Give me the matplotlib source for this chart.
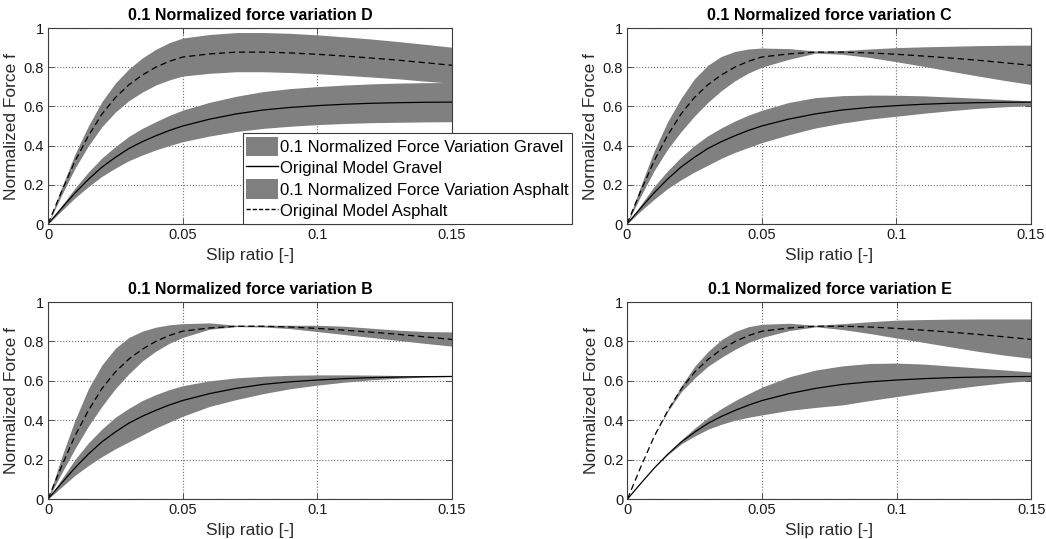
import matplotlib
matplotlib.use("Agg")
import matplotlib.pyplot as plt
from matplotlib.patches import Patch
from matplotlib.lines import Line2D

plt.rcParams['font.family'] = ['Liberation Sans', 'DejaVu Sans']

# slip ratio samples
slip = [0, .005, .01, .015, .02, .025, .03, .035, .04, .045, .05,
        .06, .07, .08, .09, .10, .11, .12, .13, .14, .15]

# original models (same in every panel)
asph_nom = [0, .165, .32, .45, .56, .645, .71, .76, .80, .83, .852,
            .868, .877, .877, .873, .866, .857, .847, .836, .823, .81]
grav_nom = [0, .08, .158, .228, .29, .34, .385, .42, .45, .477, .50,
            .535, .562, .582, .595, .604, .611, .616, .619, .621, .622]

# variation D
d_asph_hi = [0, .184, .356, .501, .624, .719, .791, .847, .891, .925, .949,
             .967, .977, .977, .973, .965, .955, .944, .931, .917, .902]
d_asph_lo = [0, .146, .284, .399, .496, .571, .629, .673, .709, .735, .755,
             .769, .777, .777, .773, .767, .759, .750, .741, .729, .718]
d_grav_hi = [0, .093, .183, .265, .337, .395, .447, .488, .522, .554, .581,
             .621, .652, .676, .691, .701, .709, .715, .719, .721, .722]
d_grav_lo = [0, .067, .133, .191, .243, .285, .323, .352, .378, .400, .420,
             .449, .472, .488, .499, .507, .513, .517, .519, .521, .522]

# variation C
c_asph_hi = [0, .19, .37, .52, .64, .74, .81, .855, .88, .893, .898,
             .895, .883, .885, .893, .90, .904, .907, .91, .912, .913]
c_asph_lo = [0, .14, .27, .38, .47, .55, .62, .68, .73, .77, .80,
             .84, .872, .866, .85, .828, .805, .78, .756, .733, .712]
c_grav_hi = [0, .095, .19, .27, .34, .40, .45, .49, .525, .555, .58,
             .62, .645, .655, .658, .657, .654, .648, .642, .635, .628]
c_grav_lo = [0, .065, .125, .18, .225, .265, .30, .335, .365, .39, .415,
             .455, .49, .515, .535, .55, .565, .578, .59, .598, .605]

# variation B
b_asph_hi = [0, .21, .40, .56, .68, .765, .82, .852, .872, .884, .89,
             .894, .882, .882, .882, .882, .877, .867, .857, .85, .848]
b_asph_lo = [0, .13, .255, .37, .47, .56, .635, .70, .75, .79, .82,
             .862, .875, .873, .865, .85, .835, .82, .805, .79, .776]
b_grav_hi = [0, .10, .20, .285, .355, .415, .46, .50, .53, .555, .575,
             .60, .615, .623, .628, .63, .63, .629, .627, .624, .622]
b_grav_lo = [0, .06, .12, .17, .215, .255, .29, .325, .36, .39, .42,
             .47, .505, .535, .56, .578, .593, .605, .613, .619, .622]

# variation E
e_asph_hi = [0, .165, .32, .455, .575, .675, .75, .81, .85, .875, .887,
             .892, .882, .89, .90, .908, .911, .913, .914, .914, .914]
e_asph_lo = [0, .165, .32, .445, .545, .615, .675, .72, .76, .795, .82,
             .855, .874, .86, .84, .817, .795, .772, .75, .73, .714]
e_grav_hi = [0, .08, .158, .232, .30, .36, .415, .46, .50, .535, .568,
             .62, .655, .676, .688, .69, .685, .675, .665, .655, .645]
e_grav_lo = [0, .08, .158, .225, .28, .32, .355, .38, .40, .415, .427,
             .45, .465, .478, .50, .52, .54, .558, .575, .59, .602]

xticks = [0, 0.05, 0.1, 0.15]
xticklabels = ["0", "0.05", "0.1", "0.15"]
yticks = [0, 0.2, 0.4, 0.6, 0.8, 1.0]
yticklabels = ["0", "0.2", "0.4", "0.6", "0.8", "1"]

band_col = "#808080"
axis_col = "#3c3c3c"

fig = plt.figure(figsize=(10.46, 5.39), dpi=100)
w, h_top, h_bot = 0.3862, 0.3636, 0.3655
ax_d = fig.add_axes([0.0459, 0.5844, w, h_top])
ax_c = fig.add_axes([0.5994, 0.5844, w, h_top])
ax_b = fig.add_axes([0.0459, 0.0742, w, h_bot])
ax_e = fig.add_axes([0.5999, 0.0742, w, h_bot])


def draw_panel(ax, title, a_hi, a_lo, g_hi, g_lo):
    ax.fill_between(slip, a_lo, a_hi, color=band_col, lw=0)
    ax.fill_between(slip, g_lo, g_hi, color=band_col, lw=0)
    ax.plot(slip, grav_nom, color="black", lw=0.9)
    ax.plot(slip, asph_nom, color="black", lw=0.9, ls=(0, (5, 3)))
    ax.set_xlim(0, 0.15)
    ax.set_ylim(0, 1)
    ax.set_xticks(xticks)
    ax.set_xticklabels(xticklabels)
    ax.set_yticks(yticks)
    ax.set_yticklabels(yticklabels)
    ax.set_axisbelow(True)
    ax.grid(True, ls=":", color="#707070", lw=0.8)
    ax.tick_params(direction="in", length=4, width=0.6, top=True, right=True,
                   labelsize=10.5, pad=3, colors=axis_col, labelcolor="#1a1a1a")
    for sp in ax.spines.values():
        sp.set_color(axis_col)
        sp.set_linewidth(0.8)
    ax.set_xlabel("Slip ratio [-]", fontsize=12.5, color="#2a2a2a", labelpad=4)
    ax.set_ylabel("Normalized Force f", fontsize=12.5, color="#2a2a2a", labelpad=3)
    ax.set_title(title, fontsize=11.5, fontweight="bold", pad=6)


draw_panel(ax_d, "0.1 Normalized force variation D", d_asph_hi, d_asph_lo, d_grav_hi, d_grav_lo)
draw_panel(ax_c, "0.1 Normalized force variation C", c_asph_hi, c_asph_lo, c_grav_hi, c_grav_lo)
draw_panel(ax_b, "0.1 Normalized force variation B", b_asph_hi, b_asph_lo, b_grav_hi, b_grav_lo)
draw_panel(ax_e, "0.1 Normalized force variation E", e_asph_hi, e_asph_lo, e_grav_hi, e_grav_lo)

handles = [Patch(facecolor=band_col, edgecolor="none"),
           Line2D([], [], color="black", lw=1.0),
           Patch(facecolor=band_col, edgecolor="none"),
           Line2D([], [], color="black", lw=1.0, ls=(0, (3, 1.5)))]
labels = ["0.1 Normalized Force Variation Gravel",
          "Original Model Gravel",
          "0.1 Normalized Force Variation Asphalt",
          "Original Model Asphalt"]
leg = ax_d.legend(handles, labels, loc="lower left", bbox_to_anchor=(0.483, 0.0),
                  fontsize=12, frameon=True, fancybox=False, framealpha=1,
                  borderaxespad=0, borderpad=0.2, labelspacing=0.1,
                  handlelength=1.9, handleheight=1.45, handletextpad=0.1)
leg.get_frame().set_edgecolor(axis_col)
leg.get_frame().set_linewidth(0.8)
leg.set_zorder(5)

fig.savefig("out.png", dpi=100)
